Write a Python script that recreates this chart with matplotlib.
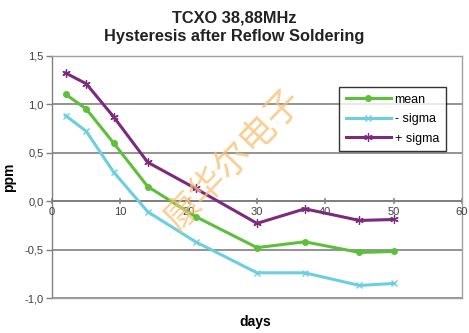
import numpy as np
import matplotlib
matplotlib.use("Agg")
import matplotlib.pyplot as plt
from matplotlib.ticker import FuncFormatter

# measurement days and frequency deviation in ppm
days = [2, 5, 9, 14, 21, 30, 37, 45, 50]
mean = [1.10, 0.95, 0.60, 0.15, -0.16, -0.48, -0.42, -0.53, -0.52]
minus_sigma = [0.88, 0.72, 0.30, -0.11, -0.42, -0.74, -0.74, -0.87, -0.85]
plus_sigma = [1.32, 1.21, 0.87, 0.40, 0.13, -0.23, -0.08, -0.20, -0.19]

x_ticks = [0, 10, 20, 30, 40, 50, 60]
y_ticks = [-1.0, -0.5, 0.0, 0.5, 1.0, 1.5]

plt.rcParams['font.family'] = ['Liberation Sans', 'DejaVu Sans']

fig = plt.figure(figsize=(4.69, 3.33), dpi=100)
ax = fig.add_axes([0.111, 0.105, 0.874, 0.728])

ax.set_xlim(0, 60)
ax.set_ylim(-1.0, 1.5)

# horizontal gridlines only, excel style
for y in y_ticks:
    ax.axhline(y, color='#808080', lw=1.2, zorder=1)

for s in ax.spines.values():
    s.set_color('#a0a0a0')
    s.set_linewidth(1.0)
ax.spines['left'].set_color('#808080')

# x axis drawn through zero
ax.axhline(0, color='#808080', lw=1.4, zorder=1)
for x in x_ticks:
    ax.plot([x, x], [-0.025, 0.025], color='#808080', lw=1.2, zorder=1, clip_on=False)
    ax.text(x, -0.06, str(x), ha='center', va='top', fontsize=8, color='#404040')

ax.set_xticks([])
ax.set_yticks(y_ticks)
ax.yaxis.set_major_formatter(FuncFormatter(lambda v, p: f'{v:.1f}'.replace('.', ',')))
ax.tick_params(axis='y', length=4, width=1, color='#808080', labelsize=8,
               labelcolor='#404040', pad=2)

ax.plot(days, mean, color='#5dbf3a', lw=2.2, marker='o', ms=4, label='mean', zorder=3)
ax.plot(days, minus_sigma, color='#6ccfe0', lw=2.2, marker='x', ms=5, mew=1.0,
        label='- sigma', zorder=3)
ax.plot(days, plus_sigma, color='#7b2a7e', lw=2.2, marker=(6, 2, 0), ms=6, mew=0.9,
        label='+ sigma', zorder=3)

leg = ax.legend(loc='upper left', bbox_to_anchor=(0.70, 0.872), fontsize=9,
                frameon=True, fancybox=False, borderpad=0.55, handlelength=3.6,
                labelspacing=0.6, handletextpad=0.3, borderaxespad=0)
leg.get_frame().set_edgecolor('#000000')
leg.get_frame().set_linewidth(1.0)

ax.set_ylabel('ppm', fontsize=10, fontweight='bold', labelpad=6)
fig.text(0.545, 0.033, 'days', ha='center', va='center', fontsize=10, fontweight='bold')

fig.text(0.5, 0.917, 'TCXO 38,88MHz\nHysteresis after Reflow Soldering',
         ha='center', va='center', fontsize=11.8, fontweight='bold',
         linespacing=1.3, color='#222222')

# watermark
fig.text(0.50, 0.52, '康华尔电子', rotation=46, ha='center', va='center',
         fontsize=26, color='#f6c074', alpha=0.75, fontweight='light',
         family=['Noto Sans CJK SC', 'DejaVu Sans'], zorder=10)

fig.savefig('out.png', dpi=100)
